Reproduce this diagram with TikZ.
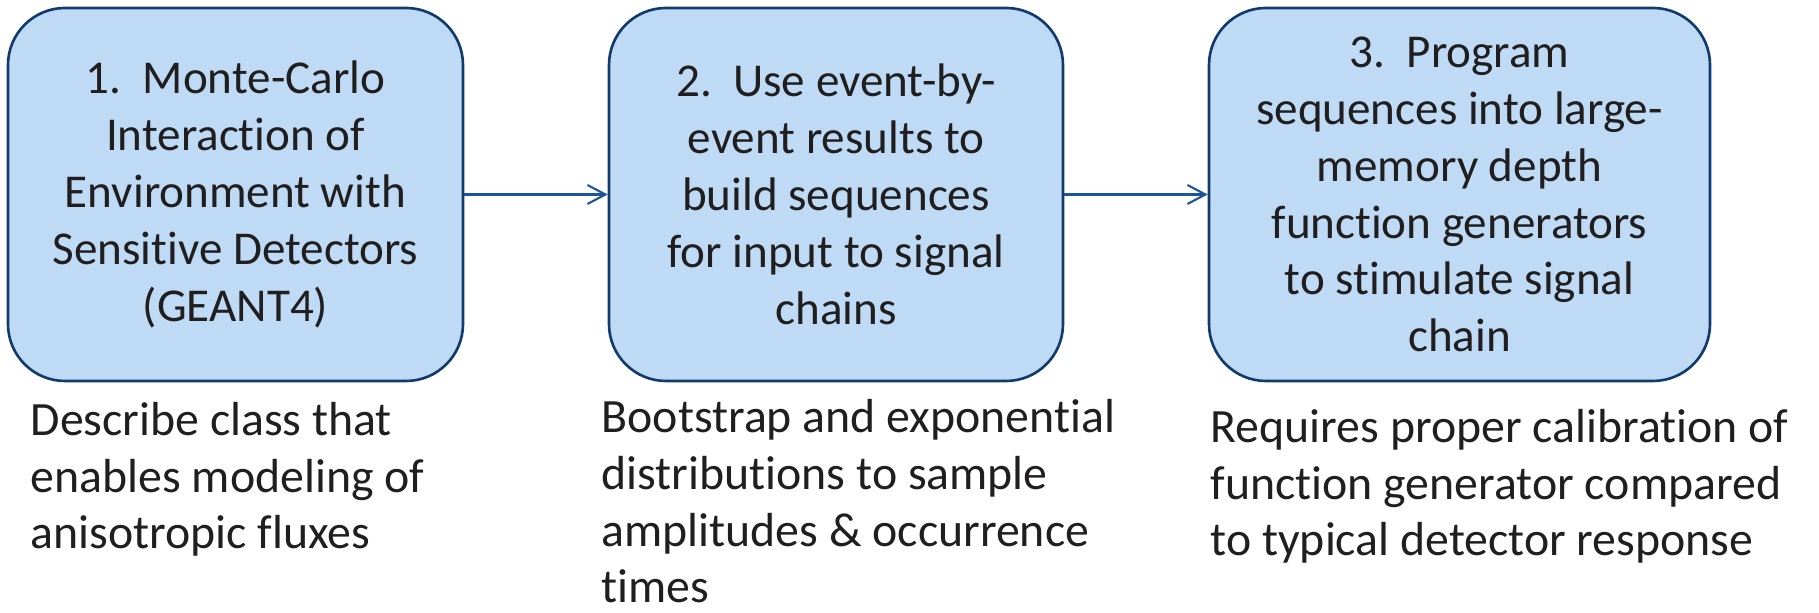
\documentclass[tikz,border=0pt]{standalone}
\usepackage{fontspec}
\setmainfont{Carlito}[Ligatures={NoCommon}]
\usepackage{tikz}
\usetikzlibrary{positioning,arrows.meta}
\usepackage{xcolor}
\definecolor{stepfill}{RGB}{190,218,245}
\definecolor{stepline}{RGB}{18,58,108}
\definecolor{flowline}{RGB}{30,85,150}
\definecolor{inktext}{RGB}{32,30,31}

\begin{document}
\begin{tikzpicture}[font=\fontsize{13.4}{16.2}\selectfont,
  stepbox/.style={draw=stepline,line width=0.75pt,rounded corners=0.57cm,fill=stepfill,minimum height=3.73cm,align=center,text=inktext,inner sep=0pt},
  note/.style={anchor=base west,align=left,text=inktext,inner sep=0pt,font=\fontsize{13.6}{16.2}\selectfont},
  flow/.style={draw=flowline,line width=0.6pt,-{Straight Barb[length=1.8mm,width=1.9mm]}}]
\useasboundingbox (0,0) rectangle (18.19,6.13);

% Step boxes
\node[stepbox,minimum width=4.55cm] (mc) at (2.355,4.185) {1.\ \ Monte-Carlo\\Interaction of\\Environment with\\Sensitive Detectors\\(GEANT4)};
\node[stepbox,minimum width=4.54cm] (seq) at (8.36,4.185) {2.\ \ Use event-by-\\event results to\\build sequences\\for input to signal\\chains};
\node[stepbox,minimum width=5.01cm] (gen) at (14.595,4.185) {3.\ \ Program\\sequences into large-\\memory depth\\function generators\\to stimulate signal\\chain};

% Notes under the boxes (anchored at last baseline)
\node[note] (mcnote) at (0.30,0.64) {Describe class that\\enables modeling of\\anisotropic fluxes};
\node[note] (seqnote) at (6.01,0.10) {Bootstrap and exponential\\distributions to sample\\amplitudes \& occurrence\\times};
\node[note] (gennote) at (12.10,0.57) {Requires proper calibration of\\function generator compared\\to typical detector response};

\draw[flow] (mc)--(seq);
\draw[flow] (seq)--(gen);
\end{tikzpicture}
\end{document}
